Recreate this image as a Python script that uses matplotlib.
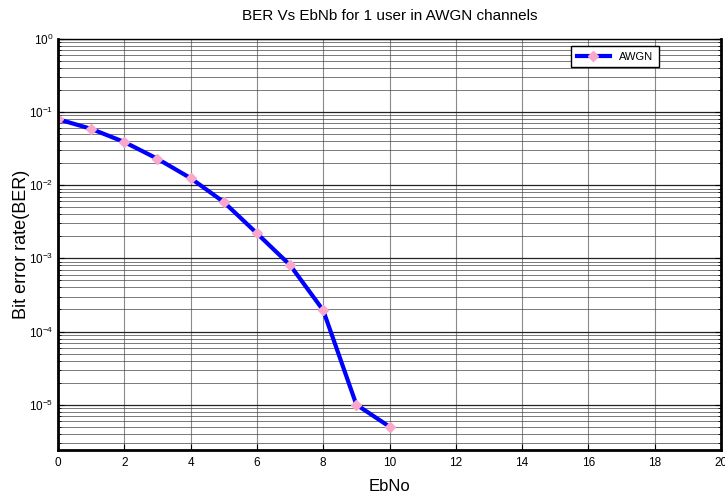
import numpy as np
import matplotlib
matplotlib.use('Agg')
import matplotlib.pyplot as plt
from matplotlib.ticker import LogLocator, FixedLocator, NullFormatter

plt.rcParams['font.family'] = ['Liberation Sans', 'DejaVu Sans']
plt.rcParams['mathtext.fontset'] = 'custom'
plt.rcParams['mathtext.rm'] = 'Liberation Sans'
plt.rcParams['mathtext.it'] = 'Liberation Sans'

# data
ebno = [0, 1, 2, 3, 4, 5, 6, 7, 8, 9, 10]
ber = [0.080, 0.059, 0.039, 0.023, 0.0125, 0.0059, 0.0022, 0.00081, 0.000195, 1.0e-5, 5.0e-6]
x_ticks = list(range(0, 21, 2))
y_ticks = [1e-5, 1e-4, 1e-3, 1e-2, 1e-1, 1e0]

fig = plt.figure(figsize=(7.25, 4.97), dpi=100)
ax = fig.add_axes([0.08, 0.0946, 0.9145, 0.827])

ax.semilogy(ebno, ber, color='blue', linewidth=3, marker='D', markersize=5.5,
            markerfacecolor='#f9a8cc', markeredgecolor='#f9a8cc', label='AWGN')

ax.set_xlim(0, 20)
ax.set_ylim(2.4e-6, 1)
ax.xaxis.set_major_locator(FixedLocator(x_ticks))
ax.yaxis.set_major_locator(FixedLocator(y_ticks))
ax.yaxis.set_minor_locator(LogLocator(base=10, subs=np.arange(2, 10)))
ax.yaxis.set_minor_formatter(NullFormatter())

ax.grid(True, which='major', axis='x', color='#8a8a8a', linewidth=0.8)
ax.grid(True, which='major', axis='y', color='#222222', linewidth=0.9)
ax.grid(True, which='minor', axis='y', color='#444444', linewidth=0.5)
ax.set_axisbelow(True)

ax.tick_params(which='both', direction='in', top=False, right=True, labelsize=8.5)
ax.tick_params(which='major', length=4)
ax.tick_params(which='minor', length=2)
ax.tick_params(axis='x', pad=5)
for side in ['left', 'bottom', 'right']:
    ax.spines[side].set_linewidth(2)
ax.spines['top'].set_linewidth(1)

ax.set_title('BER Vs EbNb for 1 user in AWGN channels', fontsize=11, pad=14)
ax.set_xlabel('EbNo', fontsize=12, labelpad=7)
ax.set_ylabel('Bit error rate(BER)', fontsize=13, labelpad=-1)

leg = ax.legend(loc='upper right', bbox_to_anchor=(0.906, 0.983), fontsize=8,
                fancybox=False, edgecolor='black', framealpha=1,
                handlelength=3, borderpad=0.5, borderaxespad=0)
leg.get_frame().set_linewidth(1)

fig.savefig('out.png', dpi=100)
